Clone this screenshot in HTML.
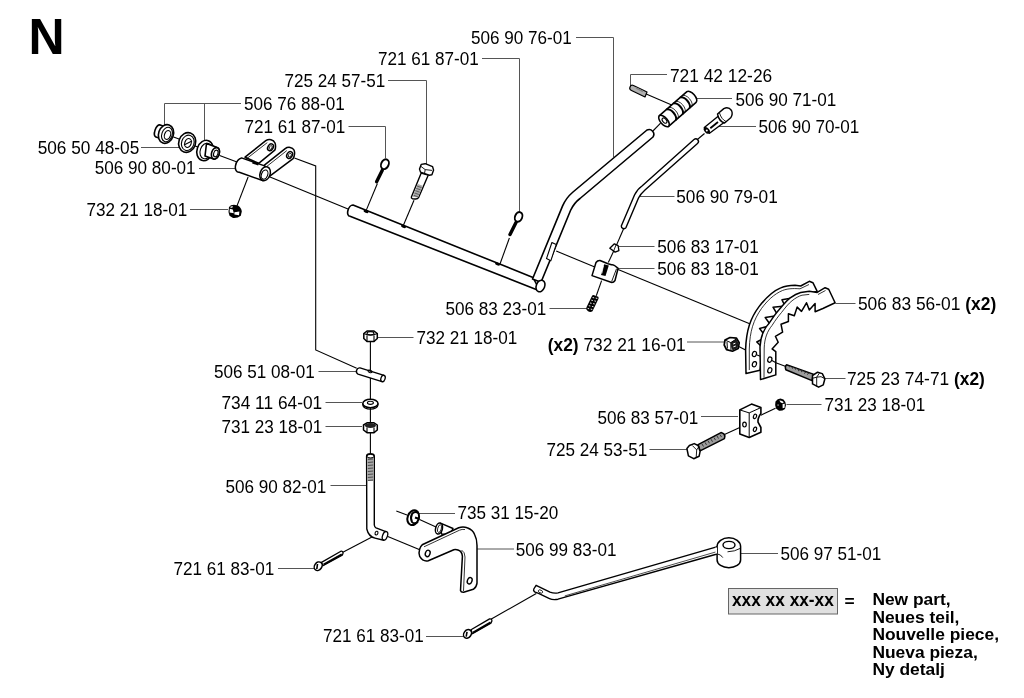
<!DOCTYPE html>
<html><head><meta charset="utf-8">
<style>
html,body{margin:0;padding:0;background:#fff;width:1024px;height:698px;overflow:hidden}
svg{display:block;will-change:transform}
text{font-family:"Liberation Sans",sans-serif;font-size:17.4px;fill:#000}
#labels text{font-size:18px}
.b{font-weight:bold}
.L{stroke:#555;stroke-width:1;fill:none}
.P{stroke:#000;stroke-width:1.6;fill:#fff;stroke-linejoin:round;stroke-linecap:round}
.T{stroke:#000;stroke-width:1.1;fill:none}
</style></head><body>
<svg width="1024" height="698" viewBox="0 0 1024 698">
<text x="28.6" y="53.6" class="b" style="font-size:50px">N</text>
<g id="labels">
<text textLength="100.8" lengthAdjust="spacingAndGlyphs" x="470.9" y="43.5">506 90 76-01</text>
<text textLength="100.8" lengthAdjust="spacingAndGlyphs" x="377.9" y="65">721 61 87-01</text>
<text textLength="100.8" lengthAdjust="spacingAndGlyphs" x="284.4" y="86.5">725 24 57-51</text>
<text textLength="102.3" lengthAdjust="spacingAndGlyphs" x="669.9" y="81.5">721 42 12-26</text>
<text textLength="100.8" lengthAdjust="spacingAndGlyphs" x="243.9" y="109.8">506 76 88-01</text>
<text textLength="100.8" lengthAdjust="spacingAndGlyphs" x="735.4" y="105.5">506 90 71-01</text>
<text textLength="100.8" lengthAdjust="spacingAndGlyphs" x="244.4" y="132.5">721 61 87-01</text>
<text textLength="100.8" lengthAdjust="spacingAndGlyphs" x="758.4" y="132.5">506 90 70-01</text>
<text textLength="101.6" lengthAdjust="spacingAndGlyphs" x="37.7" y="153.5">506 50 48-05</text>
<text textLength="100.8" lengthAdjust="spacingAndGlyphs" x="94.8" y="174.1">506 90 80-01</text>
<text textLength="101.4" lengthAdjust="spacingAndGlyphs" x="676.3" y="202.5">506 90 79-01</text>
<text textLength="100.8" lengthAdjust="spacingAndGlyphs" x="86.4" y="216">732 21 18-01</text>
<text textLength="101.4" lengthAdjust="spacingAndGlyphs" x="657.3" y="253.3">506 83 17-01</text>
<text textLength="101.4" lengthAdjust="spacingAndGlyphs" x="657.3" y="274.7">506 83 18-01</text>
<text textLength="100.8" lengthAdjust="spacingAndGlyphs" x="445.4" y="315">506 83 23-01</text>
<text textLength="138.3" lengthAdjust="spacingAndGlyphs" x="857.9" y="309.5">506 83 56-01 <tspan class="b">(x2)</tspan></text>
<text textLength="100.8" lengthAdjust="spacingAndGlyphs" x="416.4" y="343.5">732 21 18-01</text>
<text textLength="137.9" lengthAdjust="spacingAndGlyphs" x="547.8" y="351"><tspan class="b">(x2)</tspan> 732 21 16-01</text>
<text textLength="100.8" lengthAdjust="spacingAndGlyphs" x="213.9" y="377.5">506 51 08-01</text>
<text textLength="138" lengthAdjust="spacingAndGlyphs" x="846.9" y="384.5">725 23 74-71 <tspan class="b">(x2)</tspan></text>
<text textLength="100.8" lengthAdjust="spacingAndGlyphs" x="221.4" y="409">734 11 64-01</text>
<text textLength="100.8" lengthAdjust="spacingAndGlyphs" x="824.4" y="411">731 23 18-01</text>
<text textLength="100.8" lengthAdjust="spacingAndGlyphs" x="221.4" y="433">731 23 18-01</text>
<text textLength="100.8" lengthAdjust="spacingAndGlyphs" x="597.4" y="423.5">506 83 57-01</text>
<text textLength="100.8" lengthAdjust="spacingAndGlyphs" x="546.4" y="456">725 24 53-51</text>
<text textLength="100.8" lengthAdjust="spacingAndGlyphs" x="225.4" y="492.5">506 90 82-01</text>
<text textLength="100.8" lengthAdjust="spacingAndGlyphs" x="457.4" y="519">735 31 15-20</text>
<text textLength="100.8" lengthAdjust="spacingAndGlyphs" x="515.7" y="555.6">506 99 83-01</text>
<text textLength="100.8" lengthAdjust="spacingAndGlyphs" x="780.4" y="559.5">506 97 51-01</text>
<text textLength="100.8" lengthAdjust="spacingAndGlyphs" x="173.4" y="575">721 61 83-01</text>
<text textLength="100.8" lengthAdjust="spacingAndGlyphs" x="322.9" y="642">721 61 83-01</text>
</g>
<rect x="728.5" y="588.5" width="109" height="25.5" fill="#e0e0e0" stroke="#666" stroke-width="1"/>
<text x="732" y="605.8" class="b" style="font-size:18px" textLength="101.8" lengthAdjust="spacingAndGlyphs">xxx xx xx-xx</text>
<text x="844.6" y="607" class="b">=</text>
<text x="872.4" y="605" class="b">New part,</text>
<text x="872.4" y="622.5" class="b">Neues teil,</text>
<text x="872.4" y="640" class="b">Nouvelle piece,</text>
<text x="872.4" y="657.5" class="b">Nueva pieza,</text>
<text x="872.4" y="675" class="b">Ny detalj</text>
<g id="leaders" class="L">
<polyline points="576,37.5 613.5,37.5 613.5,157"/>
<polyline points="482,58.5 519.5,58.5 519.5,211"/>
<polyline points="388,80.5 426.5,80.5 426.5,164"/>
<polyline points="667,74.5 630.5,74.5 630.5,88"/>
<polyline points="241,103.5 164.5,103.5 164.5,125"/>
<line x1="204.5" y1="103.5" x2="204.5" y2="141"/>
<line x1="696" y1="98.5" x2="732" y2="98.5"/>
<polyline points="348.5,126.5 385.5,126.5 385.5,158"/>
<line x1="719" y1="126.5" x2="756" y2="126.5"/>
<line x1="141" y1="147.5" x2="180" y2="147.5"/>
<line x1="199" y1="168.5" x2="237" y2="168.5"/>
<line x1="639.5" y1="196.5" x2="674.5" y2="196.5"/>
<line x1="190" y1="209.5" x2="228" y2="209.5"/>
<line x1="618" y1="246.5" x2="654.5" y2="246.5"/>
<line x1="618" y1="268.5" x2="654.5" y2="268.5"/>
<line x1="549.5" y1="308.5" x2="587" y2="308.5"/>
<line x1="835.5" y1="303.5" x2="855.5" y2="303.5"/>
<line x1="376" y1="337.5" x2="413.5" y2="337.5"/>
<line x1="687" y1="342" x2="724.5" y2="342"/>
<line x1="318.5" y1="371.5" x2="356" y2="371.5"/>
<line x1="825" y1="378.5" x2="845.5" y2="378.5"/>
<line x1="325.5" y1="402.5" x2="362" y2="402.5"/>
<line x1="786.5" y1="404.5" x2="821.5" y2="404.5"/>
<line x1="325.5" y1="426.5" x2="362" y2="426.5"/>
<line x1="701" y1="416.5" x2="738" y2="416.5"/>
<line x1="649.5" y1="449.5" x2="687" y2="449.5"/>
<line x1="330.5" y1="485.5" x2="366" y2="485.5"/>
<line x1="417" y1="513.5" x2="455" y2="513.5"/>
<line x1="477" y1="549" x2="514" y2="549"/>
<line x1="740.5" y1="553.5" x2="778" y2="553.5"/>
<line x1="278" y1="568.5" x2="314.5" y2="568.5"/>
<line x1="426" y1="636.5" x2="463.5" y2="636.5"/>
</g>
<g id="parts">
<!-- axis / connection lines -->
<g class="T">
<polyline points="294.4,158.1 315.7,166 315.7,350 356.7,368.2"/>
<line x1="268.8" y1="176.4" x2="348" y2="209"/>
<line x1="173.5" y1="137" x2="179" y2="139"/>
<line x1="195" y1="146" x2="198" y2="147"/>
<line x1="219.6" y1="155.6" x2="237" y2="162"/>
<line x1="248.1" y1="177" x2="236.6" y2="206.9"/>
<line x1="377.4" y1="183.5" x2="366.4" y2="209.9"/>
<line x1="414" y1="200.3" x2="403.1" y2="226"/>
<line x1="509.4" y1="238" x2="499.8" y2="264.5"/>
<line x1="645" y1="93.5" x2="672.3" y2="105.2"/>
<line x1="660.6" y1="123.2" x2="652.9" y2="131"/>
<line x1="704.5" y1="133.5" x2="696.8" y2="140"/>
<line x1="623.5" y1="229" x2="613.5" y2="252"/>
<line x1="613.6" y1="251.3" x2="608.3" y2="262.6"/>
<line x1="601.6" y1="280.6" x2="596.3" y2="295.7"/>
<line x1="556.2" y1="251" x2="594.8" y2="267.1"/>
<line x1="618.1" y1="269.4" x2="750.3" y2="324"/>
<line x1="738.2" y1="346.3" x2="745.6" y2="350"/>
<line x1="771.7" y1="361.2" x2="786.6" y2="366.8"/>
<line x1="724.5" y1="434.5" x2="739.8" y2="427.5"/>
<line x1="760.9" y1="415.2" x2="775.5" y2="408.2"/>
<line x1="370.4" y1="341.5" x2="370.4" y2="455"/>
<line x1="373.4" y1="536.3" x2="342.4" y2="552.4"/>
<line x1="387.2" y1="536.3" x2="420.4" y2="550"/>
<line x1="396.3" y1="511.1" x2="407" y2="515"/>
<line x1="419.5" y1="519.6" x2="436" y2="527"/>
<line x1="490.9" y1="619.3" x2="536.3" y2="593.6"/>
</g>
<g id="partA">
<!-- bushing 1 -->
<path class="P" d="M160.1,124.9 L166,127 L168,141 L155.9,137.1 A3.5,6.5 19 0 1 160.1,124.9 Z"/>
<ellipse class="P" cx="166" cy="134" rx="7.4" ry="9.6" transform="rotate(19 166 134)"/>
<ellipse class="T" cx="167" cy="134.5" rx="5.2" ry="7.4" transform="rotate(19 167 134.5)"/>
<ellipse class="T" cx="167.5" cy="135" rx="3" ry="4.6" transform="rotate(19 167.5 135)"/>
<!-- washer -->
<ellipse class="P" cx="187.2" cy="142.5" rx="8.4" ry="10" transform="rotate(19 187.2 142.5)"/>
<ellipse class="T" cx="187.8" cy="142.8" rx="6.2" ry="7.8" transform="rotate(19 187.8 142.8)"/>
<ellipse class="T" cx="188" cy="143" rx="3.2" ry="4.6" transform="rotate(19 188 143)"/>
<line class="T" x1="184" y1="145" x2="192" y2="141"/>
<!-- bushing 2 -->
<ellipse class="P" cx="205" cy="150.5" rx="8" ry="10.4" transform="rotate(19 205 150.5)"/>
<ellipse class="T" cx="206" cy="151" rx="5.8" ry="8" transform="rotate(19 206 151)"/>
<path class="P" d="M206.5,143.5 L217.3,147.6 A3.8,5.9 19 0 1 213.5,159 L205,156 Z"/>
<ellipse class="P" cx="215.4" cy="153.3" rx="3.8" ry="5.9" transform="rotate(19 215.4 153.3)"/>
<ellipse class="T" cx="215.8" cy="153.5" rx="2.1" ry="3.5" transform="rotate(19 215.8 153.5)"/>
<!-- bracket arms & tube -->
<path class="P" d="M245,157.2 L265.8,140.7 C269,138.5 273.5,139.5 275,143 C276,146 275.5,148.5 274.8,150.1 L258.7,163.3 Z" style="stroke-width:1.5"/>
<path class="T" d="M246,159.2 L267.3,142.6" style="stroke-width:0.8"/>
<ellipse class="T" cx="270.5" cy="147.3" rx="2.6" ry="3.6" transform="rotate(30 270.5 147.3)" style="stroke-width:1.5"/>
<ellipse class="T" cx="270.7" cy="147.5" rx="1.3" ry="2" transform="rotate(30 270.7 147.5)" style="stroke-width:0.8"/>
<path class="P" d="M241.5,157.9 L267.6,166.9 L262.6,180.5 L239.3,172.3 A4.5,7.3 20 0 1 241.5,157.9 Z" style="stroke-width:1.5"/>
<path class="P" d="M264.4,165.1 L285.2,148.6 C288,146.5 292.5,147 294,150 C295,152.5 294.5,156 293.1,158.7 L270.1,175.9 Z" style="stroke-width:1.5"/>
<path class="T" d="M265.8,167.2 L286.8,150.6" style="stroke-width:0.8"/>
<ellipse class="T" cx="289.6" cy="155" rx="2.6" ry="3.6" transform="rotate(30 289.6 155)" style="stroke-width:1.5"/>
<ellipse class="T" cx="289.8" cy="155.2" rx="1.3" ry="2" transform="rotate(30 289.8 155.2)" style="stroke-width:0.8"/>
<ellipse class="P" cx="265.1" cy="173.7" rx="5" ry="7.2" transform="rotate(20 265.1 173.7)" style="stroke-width:1.5"/>
<ellipse class="T" cx="264.6" cy="174.6" rx="3.1" ry="4.8" transform="rotate(20 264.6 174.6)"/>
<path d="M252.5,162.3 L258.5,164.3" stroke="#000" stroke-width="2.4"/>
<!-- nut -->
<path d="M229,207 Q230.5,204.8 234,204.8 L238,205.6 Q241.5,208 241.8,211.5 L240.8,215.8 Q237.5,218.5 233,218 L229.5,215.8 Q227.8,212 229,207 Z" fill="#000"/>
<path d="M229.8,208.8 L232.8,209.4 L233.8,213.3 L229.6,212.6 Z M234.4,212.2 L239.4,211.6 L239,215.2 L234.4,214.4 Z M230.5,206.6 L233,206.2 L232.5,207.6 L230.6,207.9 Z" fill="#fff"/>
</g>
<g id="partB">
<!-- shaft -->
<path class="P" d="M353,205 L533,277.5 L540,291 L350,216.2 A3.4,5.8 22 0 1 353,205 Z"/>
<ellipse cx="366" cy="211.5" rx="2.6" ry="1.3" transform="rotate(22 366 211.5)" fill="#000"/>
<ellipse cx="403.5" cy="226.5" rx="2.6" ry="1.3" transform="rotate(22 403.5 226.5)" fill="#000"/>
<ellipse cx="497.5" cy="264" rx="2.6" ry="1.3" transform="rotate(22 497.5 264)" fill="#000"/>
<!-- cotter pin upper left -->
<ellipse class="P" cx="384.9" cy="164.2" rx="3.7" ry="5.1" transform="rotate(25 384.9 164.2)" style="stroke-width:1.9"/>
<line x1="382.3" y1="170.2" x2="376.6" y2="181.8" stroke="#000" stroke-width="3.4" stroke-linecap="round"/>
<!-- bolt 725 24 57-51 -->
<path class="P" d="M421.2,173.1 L428.2,175.2 L418.5,197.7 Q417.5,199.3 415,199 L412.4,198.7 Q411,198 411.4,197 Z" style="stroke-width:1.4"/>
<path d="M417.8,184 L422.8,185.8 L418,197.5 L412.8,196.8 Z" fill="#aaa"/>
<path d="M417,186 L421.5,187.6 M416.2,188.3 L420.6,189.9 M415.3,190.6 L419.7,192.2 M414.4,192.9 L418.8,194.5 M413.5,195.2 L417.9,196.8" stroke="#555" stroke-width="0.9"/>
<path class="P" d="M419.5,169.1 L421.2,164.4 L425.2,163.7 L432.6,166.7 L433.6,170.1 L431.9,174.8 L429.2,175.2 L420.5,172.1 Z" style="stroke-width:1.4"/>
<path class="T" d="M420.5,166.1 L425.2,169.6 L432,170.4 M425.2,169.6 L424.5,173.5" style="stroke-width:0.9"/>
<!-- cotter pin at 519 -->
<ellipse class="P" cx="518.6" cy="216.9" rx="3.6" ry="5" transform="rotate(22 518.6 216.9)" style="stroke-width:1.9"/>
<line x1="516" y1="222.5" x2="510" y2="234.5" stroke="#000" stroke-width="3.4" stroke-linecap="round"/>
<!-- lever tube -->
<path class="P" d="M532.5,279 L562.6,205.9 Q566,198 573,192 L647,130 A4.8,4.8 0 0 1 653,137 L580,198.5 Q574,203 570.5,210.5 L541,282.3 Z"/>
<ellipse class="P" cx="540.5" cy="286" rx="4.2" ry="6" transform="rotate(22 540.5 286)"/>
<path class="P" d="M551.9,242.5 L556.2,244.6 L550.8,260.8 L546.5,258.6 Z" style="stroke-width:1.1"/>
<!-- pin 721 42 12-26 -->
<path class="P" d="M633.5,85.5 L647,92 L645,97 L631.5,90.5 A2.6,2.6 0 0 1 633.5,85.5 Z" style="stroke-width:1.2;fill:#b0b0b0"/>
<path d="M636,88 L643,91.5" stroke="#888" stroke-width="1.5"/>
<!-- grip 506 90 71-01 -->
<path class="P" d="M659.4,115.7 L686.9,91.7 A3.5,7 -41.1 0 1 696.1,102.3 L668.6,126.3 Z"/>
<path class="T" d="M666.3,109.7 A3.5,7 -41.1 0 1 675.5,120.3 M673.2,103.7 A3.5,7 -41.1 0 1 682.4,114.3 M680.1,97.7 A3.5,7 -41.1 0 1 689.3,108.3" style="stroke-width:2"/>
<path class="T" d="M668.5,107.8 A3.5,7 -41.1 0 1 677.7,118.4 M675.4,101.8 A3.5,7 -41.1 0 1 684.6,112.4 M682.3,95.8 A3.5,7 -41.1 0 1 691.5,106.4" style="stroke-width:0.8"/>
<ellipse class="P" cx="664" cy="121" rx="3.5" ry="7" transform="rotate(-41.1 664 121)"/>
<ellipse class="T" cx="664.5" cy="120.6" rx="1.8" ry="3" transform="rotate(-41.1 664.5 120.6)"/>
<!-- knob 506 90 70-01 -->
<path class="P" d="M704.3,127.5 L718.5,116 L724,122.5 L709.5,133.2 Z" style="stroke-width:1.4"/>
<path class="P" d="M717.5,114 L723.8,108.6 Q728.5,106.3 731.5,110.5 Q733.2,114 730.7,117.8 L724.6,123 Q719,121.5 717.5,114 Z" style="stroke-width:1.4"/>
<path class="T" d="M719.5,113 Q721.5,119.5 726.2,121.6" style="stroke-width:0.9"/>
<ellipse cx="706.8" cy="130.4" rx="2.4" ry="3.8" transform="rotate(-40 706.8 130.4)" fill="#000"/>
<circle cx="706.8" cy="130.4" r="1" fill="#fff"/>
<line x1="710.3" y1="128.3" x2="718" y2="122" stroke="#000" stroke-width="1.8"/>
<!-- thin rod 506 90 79-01 -->
<path class="P" d="M621.3,226 L634.5,195 Q637.5,189 642,186 L694,139.5 A2.6,2.6 0 0 1 697.5,143.5 L645,190 Q640.5,194 638.5,198 L626,227.6 A2.6,2.6 0 0 1 621.3,226 Z" style="stroke-width:1.4"/>
<!-- cone 506 83 17-01 -->
<path class="P" d="M609.8,248.3 L614.4,243.8 L618.1,245.6 L618.9,250.6 L615.1,252.1 Z" style="stroke-width:1.3"/>
<line class="T" x1="616.2" y1="244.5" x2="613.4" y2="251.6" style="stroke-width:0.9"/>
<!-- block 506 83 18-01 -->
<path class="P" d="M592,275.6 L596,262.5 Q597.5,260.3 600,260.5 L608,263.8 L611.5,264.8 Q613.5,264 618.1,268.3 L615,280.5 Q613.5,282.8 611,282.3 Z" style="stroke-width:1.5"/>
<path class="T" d="M611.6,281.6 L616.6,268.6" style="stroke-width:0.9"/>
<path d="M604.2,264.2 L608.8,265.6 L605.5,276 L601,275 Z" fill="#000"/>
<path d="M603.3,266 L601.8,273.5" stroke="#fff" stroke-width="0.8"/>
<!-- spring 506 83 23-01 -->
<path d="M594.2,295.2 L598.3,296.7 Q599,298 598.4,299 L592.5,311.2 Q590.5,312.5 588,311.3 L586.4,309.5 Q586,308 586.6,307 L592.2,295.6 Q593,294.8 594.2,295.2 Z" fill="#000"/>
<path d="M592.6,297.5 L597.5,298.5 M591.3,300.2 L596.2,301.3 M590,303 L595,304 M588.8,305.7 L593.7,306.8 M587.6,308.4 L592.4,309.5" stroke="#fff" stroke-width="0.9" stroke-dasharray="1.6,1.6"/>
</g>
<g id="partC">
<!-- back gear segment -->
<path class="P" d="M746,373.5 L745.6,349.8 C746.2,330 750.5,318 759.2,306.4 C765,299 772,291.5 780.7,287.9 C785,286 790,285.3 795,285.3 L800.7,286 L809.3,281.3 L812.9,282.7 L817.2,291.3 L792,298 L782,299.8 L785,306 L773,307.2 L778,315.5 L765.2,317.5 L771,325.5 L759.6,328.5 L766,337 L756.8,342 L763,348 L760,370.3 Z" style="stroke-width:1.5"/>
<path class="T" d="M749.3,370 L749.3,349 C749.8,331 753.5,320 761.5,308.5 C767,301 774,294 782.5,290.5 C787,288.8 792,288.2 800,288.8 L809,284.5" style="stroke-width:0.8"/>
<ellipse class="T" cx="754.4" cy="354" rx="2" ry="2.7" transform="rotate(20 754.4 354)" style="stroke-width:1.2"/>
<ellipse class="T" cx="754.4" cy="364.2" rx="2" ry="2.7" transform="rotate(20 754.4 364.2)" style="stroke-width:1.2"/>
<!-- front gear segment -->
<path class="P" d="M760.5,379.6 L760,347 C760.5,336 764.5,328 769.5,322.7 C773,317.5 776,313 779,309.8 C783,305 786.5,300.5 790.2,297.8 C794,295 797.5,293.2 800.7,292.4 L809.3,291.3 L817.2,292.4 L825.1,287.7 L828.7,289.2 L835.1,302.8 L822.9,308.5 L815.1,311.7 L815.1,303.5 L809.3,309.9 L806.5,302.8 L801.5,311.4 L797.2,307.1 L794.3,315.7 L788.4,313.7 L788.4,321.5 L781,324.2 L782.6,332.1 L775.4,336.3 L778.2,342.3 L772.1,348.9 L775.8,351.7 L775.8,374.9 Z" style="stroke-width:1.5"/>
<path class="T" d="M764,377.5 L764.2,348 C764.5,338 767.5,331 772,325.5 C775.5,320 778.5,316 781.5,312.5 C785,308 788.5,303.5 792,300.8 C795.5,298 799,296 802,295.2 L809.3,294.4 M818,294.5 L825.5,290.5" style="stroke-width:0.8"/>
<ellipse class="T" cx="769.8" cy="359.6" rx="2" ry="2.7" transform="rotate(20 769.8 359.6)" style="stroke-width:1.2"/>
<ellipse class="T" cx="769.8" cy="370.3" rx="2" ry="2.7" transform="rotate(20 769.8 370.3)" style="stroke-width:1.2"/>
<!-- nut 732 21 16-01 -->
<path d="M725,340 L730,337.5 L736.5,338.2 L739.2,342.8 L738.2,348.5 L732.5,351.2 L726.5,349.6 L724.2,345 Z" fill="#fff" stroke="#000" stroke-width="1.7" stroke-linejoin="round"/>
<path d="M731,342.5 L736.2,339 L738.6,343 L737.6,348.2 L732.6,350.6 L731.2,347 Z" fill="#1a1a1a"/>
<path d="M733.2,344 L735.4,343.2 M733.4,346.8 L735.8,346" stroke="#fff" stroke-width="1"/>
<path d="M725.2,340.2 L730.8,342.6 L736.2,339 M730.8,342.6 L731,350.6 M727,342 L727.4,348.6" fill="none" stroke="#000" stroke-width="1"/>
<line class="T" x1="756.5" y1="354.8" x2="760.3" y2="356.2"/>
<line class="T" x1="771.5" y1="360.3" x2="776" y2="362.8"/>
<!-- bolt 725 23 74-71 -->
<path class="P" d="M786.5,364.8 L813.2,374.1 L812,380.6 L785.8,369.8 Q784.6,366 786.5,364.8 Z" style="fill:#9c9c9c;stroke-width:1.5"/>
<path d="M789,367 L791,366 M792,368.5 L794,367 M795,369.5 L797,368 M798,371 L800,369.5 M801,372 L803,370.5 M804,373.5 L806,372 M807,374.5 L809,373" stroke="#333" stroke-width="1"/>
<path class="P" d="M812.5,375.5 L817.6,372.2 L822.3,373.6 L824.9,378.8 L823.3,384.8 L818.6,387.2 L812.5,383.9 Z" style="stroke-width:1.5"/>
<path class="T" d="M816.7,377.2 L816.7,386.5 M812.8,378.2 L816.7,377.2 L819.3,373.3 M816.7,377.2 Q821.5,375.5 824.4,378.5" style="stroke-width:0.9"/>
<!-- block 506 83 57-01 -->
<path class="P" d="M739.8,409.9 L751.5,404.1 L760.9,407.6 L760.9,413.4 Q757.5,418 758,422.2 L760.9,427.5 L760.9,432.2 L749.2,437.5 L739.8,434 Z"/>
<path class="T" d="M739.8,409.9 L749.2,412.9 L760.9,407.6 M749.2,412.9 L749.2,437.5" style="stroke-width:1"/>
<ellipse class="T" cx="755" cy="416.4" rx="1.5" ry="2.3" transform="rotate(20 755 416.4)" style="stroke-width:1.2"/>
<ellipse class="T" cx="755" cy="429.3" rx="1.5" ry="2.3" transform="rotate(20 755 429.3)" style="stroke-width:1.2"/>
<ellipse class="T" cx="744.5" cy="424.6" rx="1.8" ry="2.4" style="stroke-width:1.2"/>
<!-- nut 731 23 18-01 -->
<path d="M775.5,401.5 Q777.5,398.5 780.5,398.5 L783.5,399.5 Q786,402 786,405 L785,409 Q782,411.2 779,410.8 L776,408.5 Q774.5,405 775.5,401.5 Z" fill="#000"/>
<path d="M779.3,400.6 Q782,400.2 783.8,402.2 L782.5,403.3 Q780.5,403 779.3,400.6 Z M782.6,404 L784.8,403.8 L784.6,407.8 L782.6,408.2 Z" fill="#fff"/>
<rect x="777.3" y="404.3" width="1.6" height="1.6" fill="#777"/>
<!-- bolt 725 24 53-51 -->
<path class="P" d="M698.1,444.6 L721,432.6 Q724.4,433.5 724.9,436 L724.4,438.7 L700.1,450.9 Z" style="fill:#9c9c9c;stroke-width:1.5"/>
<path d="M702,444 L703.5,446.5 M705,442.4 L706.5,444.9 M708,440.8 L709.5,443.3 M711,439.2 L712.5,441.7 M714,437.6 L715.5,440.1 M717,436 L718.5,438.5 M720,434.6 L721.5,437" stroke="#333" stroke-width="1"/>
<path class="P" d="M686.9,448.5 L689.4,445.5 L694.2,443.6 L698.1,445.5 L700.1,451.4 L699.1,456.3 L693.7,458.7 L688.4,455.8 Z" style="stroke-width:1.5"/>
<path class="T" d="M692.3,445.5 L696.7,449.9 L696.2,457.2 M696.7,449.9 L699,446.5" style="stroke-width:0.9"/>
</g>
<g id="partD">
<!-- nut 732 21 18-01 (middle) -->
<path class="P" d="M363.8,333.5 L367,331 L374,331 L377.3,333.5 L377.3,338.5 L374,341.5 L367,341.5 L363.8,338.5 Z" style="stroke-width:1.5"/>
<path class="T" d="M363.8,333.5 Q370.5,337 377.3,333.5 M367,335.5 L367,341.5 M374,335.5 L374,341.5"/>
<ellipse class="T" cx="370.5" cy="333.2" rx="3.5" ry="1.6"/>
<!-- pin 506 51 08-01 -->
<path class="P" d="M360,367.9 L384,375.4 L382,381.6 L358,374.1 A3,3.3 17.7 0 1 360,367.9 Z" style="stroke-width:1.4"/>
<ellipse class="P" cx="383" cy="378.5" rx="2.1" ry="3.3" transform="rotate(17.7 383 378.5)" style="stroke-width:1.3"/>
<ellipse class="T" cx="370" cy="371.4" rx="2" ry="1.2" transform="rotate(17.7 370 371.4)"/>
<!-- washer 734 11 64-01 -->
<ellipse class="P" cx="370.4" cy="403.5" rx="7.6" ry="4.2" style="stroke-width:1.5"/>
<ellipse class="T" cx="370.4" cy="402.8" rx="3" ry="1.6"/>
<path class="T" d="M362.8,403.5 L362.8,405 A7.6,4.2 0 0 0 378,405 L378,403.5"/>
<!-- nut 731 23 18-01 (middle) -->
<path class="P" d="M363.5,425 L367,422.8 L374,422.8 L377.3,425 L377.3,430 L374,432.7 L367,432.7 L363.5,430 Z" style="stroke-width:1.5"/>
<ellipse cx="370.4" cy="425.5" rx="5.5" ry="2.6" fill="#222"/>
<path class="T" d="M367,427.5 L367,432.7 M374,427.5 L374,432.7"/>
<!-- rod 506 90 82-01 -->
<path class="P" d="M366.6,456 A3.8,2.2 0 0 1 374.3,456 L374.3,525 Q374.5,527 376,527.8 L385.8,531.7 L383.7,540.3 L375,538.1 Q368.5,536.5 366.8,529 Z" style="stroke-width:1.4"/>
<rect x="367.6" y="457.5" width="5.8" height="23.5" fill="#a8a8a8"/>
<path d="M367.8,459.5 L373.2,459 M367.8,462.5 L373.2,462 M367.8,465.5 L373.2,465 M367.8,468.5 L373.2,468 M367.8,471.5 L373.2,471 M367.8,474.5 L373.2,474 M367.8,477.5 L373.2,477 M367.8,480.5 L373.2,480" stroke="#444" stroke-width="0.9"/>
<ellipse class="T" cx="370.5" cy="456.2" rx="3.6" ry="1.8" style="stroke-width:1"/>
<ellipse class="P" cx="385" cy="535.8" rx="2.4" ry="4.4" transform="rotate(20 385 535.8)" style="stroke-width:1.3"/>
<ellipse class="T" cx="376.5" cy="533.1" rx="1.4" ry="1.9" transform="rotate(20 376.5 533.1)"/>
<!-- E-clip -->
<ellipse cx="413.2" cy="517.7" rx="5.6" ry="7.6" transform="rotate(20 413.2 517.7)" fill="#fff" stroke="#000" stroke-width="2"/>
<path d="M418.5,513 Q414,510.5 412,514 Q410,518 412,522 Q414,524.5 418,522" fill="none" stroke="#000" stroke-width="2"/>
<path d="M415,517.5 L419.5,519" stroke="#000" stroke-width="2.2"/>
<!-- pin on bracket -->
<path class="P" d="M440.5,523.2 L453,528.5 L450,535 L441.5,534 Z" style="stroke-width:1.4"/>
<ellipse class="P" cx="439" cy="528.6" rx="3.4" ry="5.6" transform="rotate(15 439 528.6)" style="stroke-width:1.5"/>
<ellipse class="T" cx="439.5" cy="528.6" rx="1.8" ry="4" transform="rotate(15 439.5 528.6)" style="stroke-width:0.8"/>
<!-- bracket 506 99 83-01 -->
<path class="P" d="M422.2,544.8 L458.7,527.8 Q463,526 467.2,527.8 Q473,530 474.6,534.5 Q477,539 477,545.5 L477,583.2 Q476.5,587.5 473.3,589.3 L463.6,592.3 Q461,592.5 460.5,590.5 L462.4,556.4 Q462,551.5 458.7,550.3 Q456,549.2 453.8,549.7 L428.3,560.7 Q423,562 419.7,556.4 Q418.5,552.5 419.7,549.1 Q420.5,546.2 422.2,544.8 Z" style="stroke-width:1.5"/>
<path class="T" d="M424,546.8 L459.5,530.2 Q462,529 465,529.5 M463.5,591 L465,557 Q465,552 461.5,550" style="stroke-width:0.8"/>
<ellipse class="T" cx="427.7" cy="553.4" rx="2.3" ry="3.3" transform="rotate(20 427.7 553.4)" style="stroke-width:1.4"/>
<ellipse class="T" cx="469.7" cy="580.8" rx="2.3" ry="3.3" transform="rotate(20 469.7 580.8)" style="stroke-width:1.4"/>
<!-- cotter pin 721 61 83-01 left -->
<path class="P" d="M321.5,562.4 L340.9,551.2 Q343.2,551 343,553.5 L342.2,555.3 L322.9,565.8 Z" style="stroke-width:1.3"/>
<path d="M323.5,564.6 L341.8,554.4" stroke="#000" stroke-width="1.8"/>
<ellipse cx="318.2" cy="566.2" rx="3.6" ry="4.6" transform="rotate(35 318.2 566.2)" fill="#fff" stroke="#000" stroke-width="1.5"/>
<path d="M317.5,564 L316.8,569" stroke="#000" stroke-width="1.6"/>
<!-- cotter pin bottom -->
<path class="P" d="M471,629.8 L489.6,618.9 Q492,618.7 491.9,621 L490.9,623.2 L472.4,633.8 Z" style="stroke-width:1.3"/>
<path d="M473,632.6 L490.6,622.4" stroke="#000" stroke-width="1.8"/>
<ellipse cx="467.5" cy="633.9" rx="3.6" ry="4.6" transform="rotate(35 467.5 633.9)" fill="#fff" stroke="#000" stroke-width="1.5"/>
<path d="M467,631.8 L466.2,636.6" stroke="#000" stroke-width="1.6"/>
<!-- long rod 506 97 51-01 -->
<path class="P" d="M536.1,585.3 L550,592.2 Q554,593.6 558,592.9 L716.6,546.8 L717.1,554 L558,599.2 Q553,600.2 549.5,598.6 L538.5,593.4 L534.6,591.9 Q533,590.5 533.8,589 Z" style="stroke-width:1.4"/>
<path class="T" d="M564.8,595.9 L717,551.6" style="stroke-width:0.7"/>
<ellipse class="T" cx="540.5" cy="591.5" rx="2.3" ry="1.4" transform="rotate(25 540.5 591.5)" style="stroke-width:0.8"/>
<!-- hub -->
<path class="P" d="M717.1,546.5 A11.75,8.8 0 0 1 740.6,546.5 L740.6,560 A11.75,7.7 0 0 1 717.1,560 L717.1,554 Z" style="stroke-width:1.5"/>
<path d="M716.2,547.6 L716.2,553.6" stroke="#fff" stroke-width="1.6"/>
<ellipse class="T" cx="729" cy="545" rx="6" ry="3.6" style="stroke-width:1.4"/>
<path class="T" d="M727.5,551.8 Q735,551.5 740,548.5 M718,554.2 Q720.5,554.2 722.8,557.6" style="stroke-width:0.9"/>
</g>
</g>
</svg>
</body></html>
